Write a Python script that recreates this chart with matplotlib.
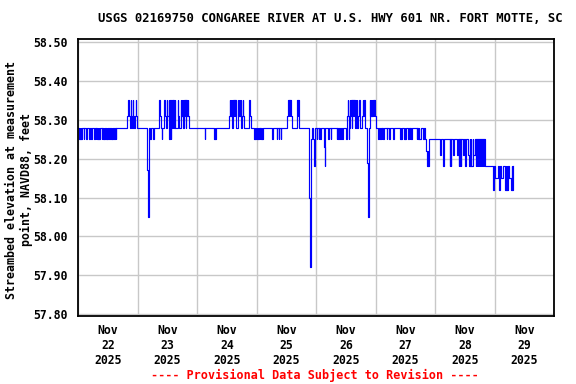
import numpy as np
import pandas as pd
import matplotlib
matplotlib.use("Agg")
import matplotlib.pyplot as plt
import matplotlib.dates as mdates

# gage height readings as (hours since 2025-11-22 00:00, elevation ft); value holds until next step
nov22 = [(0.0, 58.28), (0.2, 58.25), (0.5, 58.28), (0.7, 58.25), (1.0, 58.28), (1.2, 58.25), (1.5, 58.28),
         (2.3, 58.25), (2.5, 58.28), (3.1, 58.25), (3.5, 58.28), (4.4, 58.25), (4.6, 58.28), (5.1, 58.25),
         (5.5, 58.28), (6.5, 58.25), (6.8, 58.28), (7.0, 58.25), (7.3, 58.28), (7.5, 58.25), (7.8, 58.28),
         (8.0, 58.25), (8.3, 58.28), (8.5, 58.25), (8.8, 58.28), (9.4, 58.25), (9.6, 58.28), (10.1, 58.25),
         (10.3, 58.28), (10.4, 58.25), (10.6, 58.28), (11.2, 58.25), (11.5, 58.28), (11.7, 58.25), (12.0, 58.28),
         (12.5, 58.25), (12.7, 58.28), (13.2, 58.25), (13.5, 58.28), (13.7, 58.25), (13.9, 58.28), (14.5, 58.25),
         (14.7, 58.28), (15.2, 58.25), (15.4, 58.28), (19.5, 58.31), (20.1, 58.35), (20.3, 58.31), (20.7, 58.28),
         (21.1, 58.35), (21.3, 58.31), (21.6, 58.28), (22.0, 58.35), (22.2, 58.31), (22.5, 58.28), (22.9, 58.31),
         (23.1, 58.35), (23.3, 58.31), (23.6, 58.28)]
nov23 = [(27.8, 58.17), (28.2, 58.05), (28.4, 58.17), (28.6, 58.28), (29.0, 58.25), (29.4, 58.28), (30.2, 58.25),
         (30.4, 58.28), (32.4, 58.31), (32.7, 58.35), (32.9, 58.31), (33.5, 58.28), (33.7, 58.25), (33.9, 58.28),
         (34.6, 58.35), (34.8, 58.31), (35.2, 58.28), (35.6, 58.35), (35.8, 58.31), (36.5, 58.35), (36.7, 58.25),
         (36.9, 58.31), (37.1, 58.35), (37.3, 58.25), (37.5, 58.28), (37.8, 58.35), (38.0, 58.28), (38.2, 58.35),
         (38.4, 58.31), (38.6, 58.35), (38.8, 58.28), (39.0, 58.35), (39.2, 58.28), (40.2, 58.35), (40.4, 58.31),
         (40.7, 58.28), (41.4, 58.35), (41.6, 58.31), (41.8, 58.35), (42.0, 58.31), (42.2, 58.35), (42.4, 58.28),
         (42.8, 58.35), (43.0, 58.31), (43.2, 58.35), (43.4, 58.28), (43.6, 58.35), (43.8, 58.31), (44.1, 58.35),
         (44.3, 58.31), (44.8, 58.28)]
nov24 = [(51.1, 58.25), (51.3, 58.28), (54.8, 58.25), (55.0, 58.28), (55.2, 58.25), (55.4, 58.28), (60.9, 58.31),
         (61.1, 58.35), (61.3, 58.31), (61.5, 58.35), (61.7, 58.31), (61.9, 58.35), (62.1, 58.28), (62.3, 58.31),
         (62.5, 58.35), (62.7, 58.31), (62.9, 58.35), (63.1, 58.31), (63.3, 58.35), (63.6, 58.28), (64.3, 58.35),
         (64.5, 58.31), (64.7, 58.35), (64.9, 58.31), (65.1, 58.35), (65.3, 58.31), (65.5, 58.35), (65.7, 58.28),
         (66.0, 58.31), (66.3, 58.35), (66.5, 58.31), (67.0, 58.28), (68.7, 58.35), (69.1, 58.31), (69.6, 58.28),
         (70.9, 58.25), (71.1, 58.28), (71.4, 58.25), (71.6, 58.28)]
nov25 = [(72.1, 58.25), (72.4, 58.28), (72.6, 58.25), (72.9, 58.28), (73.1, 58.25), (73.3, 58.28), (73.6, 58.25),
         (73.9, 58.28), (74.2, 58.25), (74.4, 58.28), (78.1, 58.25), (78.4, 58.28), (80.0, 58.25), (80.3, 58.28),
         (80.9, 58.25), (81.1, 58.28), (81.6, 58.25), (81.8, 58.28), (84.3, 58.31), (84.7, 58.35), (84.9, 58.31),
         (85.1, 58.35), (85.3, 58.31), (85.5, 58.35), (85.8, 58.31), (86.1, 58.28), (88.1, 58.31), (88.4, 58.35),
         (88.6, 58.31), (88.8, 58.35), (89.0, 58.31), (89.2, 58.28), (92.9, 58.25), (93.2, 58.10), (93.6, 57.92),
         (93.8, 58.25), (94.3, 58.28), (94.5, 58.25), (94.9, 58.22), (95.1, 58.18), (95.3, 58.28)]
nov26 = [(96.2, 58.25), (96.4, 58.28), (97.0, 58.25), (97.2, 58.28), (97.6, 58.25), (97.9, 58.28), (99.2, 58.23),
         (99.5, 58.18), (99.7, 58.28), (100.9, 58.25), (101.1, 58.28), (101.8, 58.25), (102.0, 58.28), (104.2, 58.25),
         (104.4, 58.28), (104.8, 58.25), (105.2, 58.28), (105.6, 58.25), (105.8, 58.28), (106.4, 58.25), (106.7, 58.28),
         (108.0, 58.25), (108.2, 58.28), (108.4, 58.31), (108.6, 58.35), (108.8, 58.31), (109.0, 58.25), (109.2, 58.28),
         (109.5, 58.35), (109.7, 58.31), (110.0, 58.35), (110.2, 58.28), (110.5, 58.35), (110.7, 58.31), (110.9, 58.35),
         (111.1, 58.31), (111.3, 58.35), (111.5, 58.28), (112.0, 58.35), (112.2, 58.31), (112.4, 58.35), (112.6, 58.28),
         (113.0, 58.31), (113.3, 58.35), (113.5, 58.31), (113.8, 58.28), (114.6, 58.31), (114.8, 58.35), (115.0, 58.31),
         (115.4, 58.35), (115.6, 58.28), (116.6, 58.19), (116.9, 58.05), (117.1, 58.19), (117.4, 58.28), (117.6, 58.35),
         (117.8, 58.31), (118.0, 58.35), (118.2, 58.31), (118.4, 58.35), (118.6, 58.31), (118.8, 58.35), (119.1, 58.31),
         (119.4, 58.35), (119.6, 58.31)]
nov27 = [(120.0, 58.28), (121.0, 58.25), (121.3, 58.28), (121.7, 58.25), (121.9, 58.28), (122.3, 58.25), (122.5, 58.28),
         (123.0, 58.25), (123.2, 58.28), (123.3, 58.25), (123.5, 58.28), (124.4, 58.25), (124.6, 58.28), (125.2, 58.25),
         (125.4, 58.28), (125.5, 58.25), (125.7, 58.28), (126.8, 58.25), (127.2, 58.28), (129.8, 58.25), (130.0, 58.28),
         (130.3, 58.25), (130.5, 58.28), (131.4, 58.25), (131.6, 58.28), (131.9, 58.25), (132.2, 58.28), (133.0, 58.25),
         (133.3, 58.28), (133.6, 58.25), (133.8, 58.28), (134.2, 58.25), (134.5, 58.28), (136.5, 58.25), (136.8, 58.28),
         (137.1, 58.25), (137.3, 58.28), (137.6, 58.25), (138.1, 58.28), (139.2, 58.25), (139.5, 58.28), (139.9, 58.25),
         (140.3, 58.22), (140.7, 58.18), (140.9, 58.22), (141.2, 58.18), (141.4, 58.22), (141.6, 58.25)]
nov28 = [(145.9, 58.21), (146.3, 58.25), (147.0, 58.18), (147.6, 58.25), (149.9, 58.18), (150.1, 58.25), (150.3, 58.18),
         (150.5, 58.25), (151.0, 58.21), (151.7, 58.25), (152.6, 58.21), (153.0, 58.25), (153.5, 58.18), (153.7, 58.25),
         (153.9, 58.18), (154.1, 58.25), (154.2, 58.18), (154.4, 58.25), (155.1, 58.21), (155.7, 58.25), (156.1, 58.18),
         (156.4, 58.25), (157.1, 58.21), (157.7, 58.18), (157.9, 58.25), (158.1, 58.18), (158.4, 58.25), (158.6, 58.18),
         (159.1, 58.25), (159.3, 58.21), (160.2, 58.25), (160.4, 58.18), (160.6, 58.25), (160.8, 58.18), (161.0, 58.25),
         (161.2, 58.18), (161.4, 58.25), (161.6, 58.18), (161.8, 58.25), (162.0, 58.18), (162.2, 58.25), (162.4, 58.18),
         (162.6, 58.25), (162.8, 58.18), (163.0, 58.25), (163.2, 58.18), (163.4, 58.25), (163.6, 58.18), (163.8, 58.25),
         (164.0, 58.18), (167.2, 58.12), (167.8, 58.18)]
nov29 = [(168.2, 58.15), (169.2, 58.18), (169.6, 58.12), (170.1, 58.18), (170.6, 58.15), (171.2, 58.18), (172.3, 58.12),
         (172.5, 58.18), (172.7, 58.12), (172.9, 58.18), (173.0, 58.12), (173.2, 58.18), (173.9, 58.15), (174.6, 58.12),
         (174.8, 58.18), (175.0, 58.12), (175.2, 58.18), (175.5, 58.18)]

y_ticks = [57.80, 57.90, 58.00, 58.10, 58.20, 58.30, 58.40, 58.50]
title = "USGS 02169750 CONGAREE RIVER AT U.S. HWY 601 NR. FORT MOTTE, SC"
ylabel = "Streambed elevation at measurement\npoint, NAVD88, feet"
footer = "---- Provisional Data Subject to Revision ----"

hrs, elev = zip(*(nov22 + nov23 + nov24 + nov25 + nov26 + nov27 + nov28 + nov29))
t = pd.Timestamp("2025-11-22") + pd.to_timedelta(np.array(hrs), unit="h")

MONO = dict(family="DejaVu Sans Mono", weight="bold")
fig = plt.figure(figsize=(5.76, 3.84), dpi=100)
ax = fig.add_axes([78.3 / 576, 1 - 315.7 / 384, 476 / 576, 276.4 / 384])
ax.step(t, elev, where="post", color="#0000ff", lw=0.85)

ax.set_xlim(pd.Timestamp("2025-11-22"), pd.Timestamp("2025-11-30"))
ax.set_ylim(57.796, 58.507)
ax.set_yticks(y_ticks)
ax.yaxis.set_major_formatter(matplotlib.ticker.FormatStrFormatter("%.2f"))
ax.xaxis.set_major_locator(mdates.DayLocator())
ax.xaxis.set_major_formatter(matplotlib.ticker.NullFormatter())
ax.xaxis.set_minor_locator(mdates.HourLocator(byhour=[12]))
ax.xaxis.set_minor_formatter(mdates.DateFormatter("%b\n%d\n%Y"))
ax.tick_params(axis="x", which="both", length=0, pad=6)
ax.tick_params(axis="y", length=0, pad=8)
for lab in ax.get_xticklabels(minor=True) + ax.get_yticklabels():
    lab.set_fontfamily("DejaVu Sans Mono"); lab.set_fontweight("bold"); lab.set_fontsize(8.3)
ax.grid(True, which="major", color="#c8c8c8", lw=1)
ax.set_axisbelow(True)
for s in ax.spines.values(): s.set_linewidth(1.3)

fig.text(330 / 576, 1 - 19 / 384, title, ha="center", va="center", fontsize=8.8, **MONO)
fig.text(19 / 576, 1 - 180 / 384, ylabel, ha="center", va="center", rotation=90,
         multialignment="center", fontsize=8.4, linespacing=1.1, **MONO)
fig.text(315 / 576, 1 - 375 / 384, footer, ha="center", va="center", fontsize=8.5, color="#ff0000", **MONO)
fig.savefig("out.png", dpi=100)
